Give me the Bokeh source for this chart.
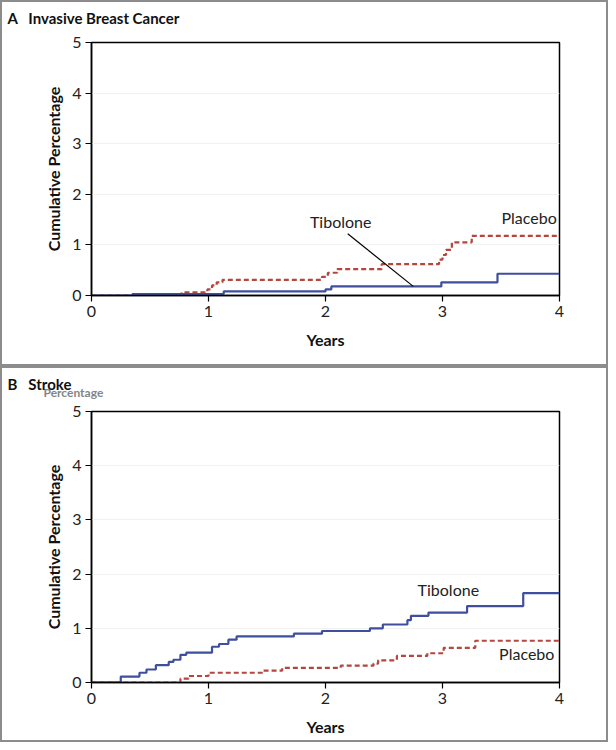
from bokeh.plotting import figure
from bokeh.layouts import column
from bokeh.models import Range1d, Label, FixedTicker, Title
from bokeh.embed import file_html
from bokeh.resources import INLINE

# ---------------- data ----------------
x_ticks = [0, 1, 2, 3, 4]
y_ticks = [0, 1, 2, 3, 4, 5]

# Panel A: Invasive breast cancer (years, cumulative %)
a_tib_t = [0, 0.35, 1.13, 2.0, 2.05, 2.99, 3.47, 4.0]
a_tib_v = [0, 0.03, 0.08, 0.12, 0.18, 0.26, 0.43, 0.43]
a_pla_t = [0, 0.77, 0.99, 1.03, 1.07, 1.12, 1.97, 2.02, 2.10, 2.48, 2.97, 3.00, 3.03, 3.08, 3.25, 4.0]
a_pla_v = [0, 0.06, 0.12, 0.20, 0.26, 0.31, 0.37, 0.45, 0.52, 0.62, 0.71, 0.80, 0.90, 1.05, 1.18, 1.18]

# Panel B: Stroke
b_tib_t = [0, 0.25, 0.41, 0.47, 0.55, 0.66, 0.70, 0.76, 0.81, 1.03, 1.09, 1.17, 1.24, 1.73, 1.97,
           2.38, 2.49, 2.70, 2.73, 2.88, 3.21, 3.69, 4.0]
b_tib_v = [0, 0.11, 0.18, 0.24, 0.32, 0.38, 0.42, 0.51, 0.55, 0.66, 0.71, 0.79, 0.85, 0.90, 0.95,
           1.00, 1.07, 1.15, 1.23, 1.29, 1.41, 1.65, 1.65]
b_pla_t = [0, 0.76, 0.83, 1.00, 1.47, 1.63, 2.13, 2.41, 2.45, 2.61, 2.87, 3.01, 3.28, 4.0]
b_pla_v = [0, 0.07, 0.12, 0.18, 0.22, 0.27, 0.31, 0.35, 0.41, 0.49, 0.54, 0.64, 0.77, 0.77]

# annotation positions (data units)
a_labels = {"Tibolone": (2.13, 1.46), "Placebo": (3.74, 1.54)}
a_leader_x = [2.19, 2.75]
a_leader_y = [1.22, 0.18]
b_labels = {"Tibolone": (3.05, 1.72), "Placebo": (3.72, 0.53)}

TIB_COLOR = "#3f4f9e"
PLA_COLOR = "#b4463e"
FONT = "Lato"
SP = "\u00a0\u00a0\u00a0"


def spacer(standoff):
    return Title(text="\u00a0", text_font_size="2px", standoff=standoff)


def make_panel(title, tib, pla, labels, height, top, bottom,
               leader=None, extra=None):
    p = figure(width=608, height=height, output_backend="svg", toolbar_location=None,
               x_range=Range1d(0, 4), y_range=Range1d(0, 5),
               min_border_left=89, min_border_right=51,
               min_border_top=top, min_border_bottom=bottom,
               styles={"border": "2px solid #8c8c8c"})
    p.outline_line_color = "black"
    p.outline_line_width = 1.5
    p.xgrid.grid_line_color = None
    p.ygrid.grid_line_color = "#f1f1f1"
    p.ygrid.ticker = FixedTicker(ticks=[1, 2, 3, 4])

    for ax, ticks in ((p.xaxis, x_ticks), (p.yaxis, y_ticks)):
        ax.ticker = FixedTicker(ticks=ticks)
        ax.axis_line_color = "black"
        ax.axis_line_width = 1.5
        ax.major_tick_line_color = "black"
        ax.major_tick_line_width = 1.2
        ax.major_tick_out = 6
        ax.major_tick_in = 0
        ax.minor_tick_line_color = None
        ax.major_label_text_font = FONT
        ax.major_label_text_font_size = "16px"
        ax.major_label_text_color = "#222222"
        ax.axis_label_text_font = FONT
        ax.axis_label_text_font_style = "bold"
        ax.axis_label_text_font_size = "16px"
        ax.axis_label_text_color = "#111111"
    p.xaxis.axis_label = "Years"
    p.xaxis.axis_label_standoff = 10
    p.xaxis.major_label_standoff = 4
    p.yaxis.axis_label = "Cumulative Percentage"
    p.yaxis.axis_label_standoff = 6
    p.yaxis.major_label_standoff = 4

    p.step(pla[0], pla[1], mode="after", line_color=PLA_COLOR, line_width=2.2, line_dash="5 3")
    p.step(tib[0], tib[1], mode="after", line_color=TIB_COLOR, line_width=2.2)

    if leader is not None:
        p.line(leader[0], leader[1], line_color="black", line_width=1.2)

    for txt, (x, y) in labels.items():
        p.add_layout(Label(x=x, y=y, text=txt, text_font=FONT, text_font_size="16px",
                           text_color="#222222", text_align="center", text_baseline="middle"))

    if extra is not None:
        p.add_layout(spacer(8), "above")
        p.add_layout(Title(text=extra, align="left", offset=-48, standoff=0,
                           text_font=FONT, text_font_size="12px", text_font_style="bold",
                           text_color="#858585"), "above")
        p.add_layout(Title(text=title, align="left", offset=-84, standoff=-20,
                           text_font=FONT, text_font_size="15px", text_font_style="bold",
                           text_color="#111111"), "above")
    else:
        p.add_layout(spacer(12), "above")
        p.add_layout(Title(text=title, align="left", offset=-84, standoff=0,
                           text_font=FONT, text_font_size="15px", text_font_style="bold",
                           text_color="#111111"), "above")
    return p


pa = make_panel("A" + SP + "Invasive Breast Cancer", (a_tib_t, a_tib_v), (a_pla_t, a_pla_v),
                a_labels, 366, 40, 73, leader=(a_leader_x, a_leader_y))
pb = make_panel("B" + SP + "Stroke", (b_tib_t, b_tib_v), (b_pla_t, b_pla_v),
                b_labels, 376, 43, 62, extra="Percentage")

layout = column(pa, pb)
open("out.html", "w").write(file_html(layout, INLINE))
